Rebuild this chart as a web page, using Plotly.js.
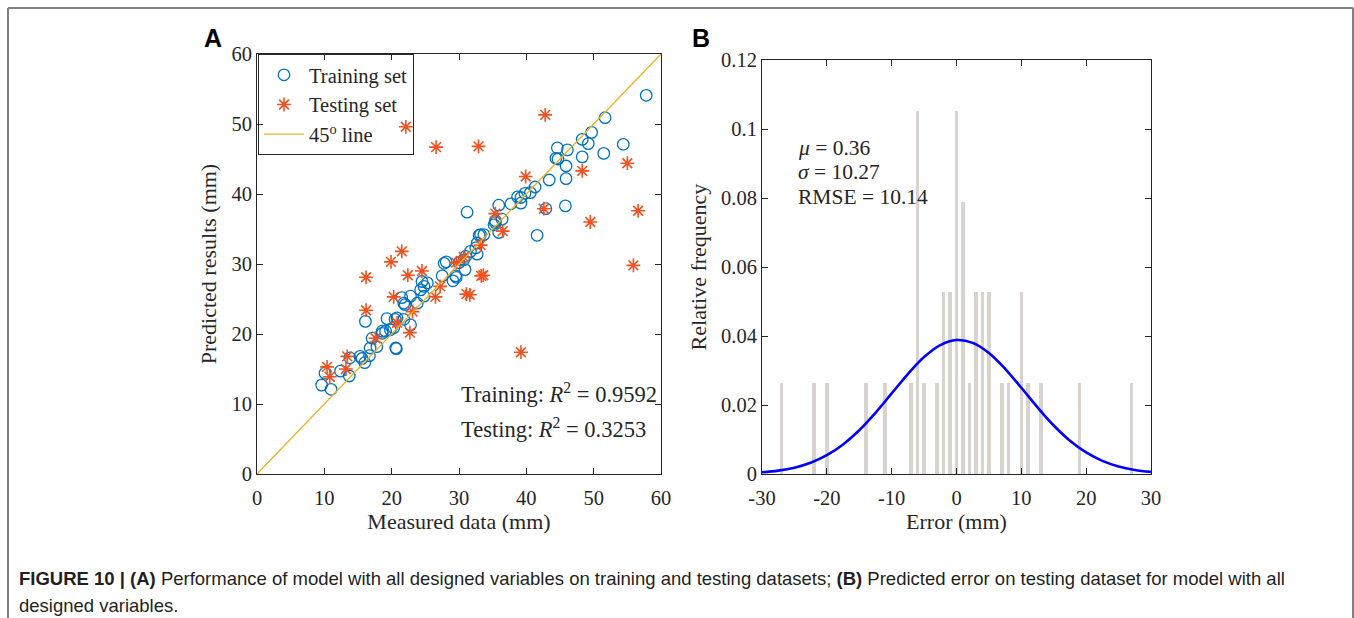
<!DOCTYPE html>
<html>
<head>
<meta charset="utf-8">
<script src="https://cdn.plot.ly/plotly-3.0.1.min.js"></script>
<style>
html,body{margin:0;padding:0;background:#fff;}
#chart{width:1354px;height:618px;}
</style>
</head>
<body>
<div id="chart"></div>
<script>
// ---------- Panel A data ----------
const trainMeasured = [9.6,11.0,10.1,12.4,13.7,13.8,15.3,15.6,16.0,16.7,16.8,17.1,17.8,18.6,19.1,19.8,20.3,20.7,16.1,19.3,20.5,20.8,21.8,22.8,18.6,21.5,22.0,22.8,23.8,21.8,24.3,24.8,24.5,25.3,24.8,27.5,28.1,29.1,29.5,30.0,30.7,30.9,31.0,31.7,32.7,32.5,32.7,33.2,33.7,33.0,35.4,35.9,35.2,35.4,36.4,35.9,37.7,38.7,39.2,39.2,39.8,40.6,41.3,41.6,42.9,43.4,45.8,45.9,45.9,44.4,44.7,44.6,46.1,48.3,48.3,49.2,49.7,51.5,51.7,54.4,57.8,31.2,20.6,29.6,27.8];
const trainPredicted = [12.7,12.1,14.4,14.7,14.0,16.6,16.8,16.5,15.9,16.9,18.0,19.4,18.2,20.1,20.4,20.6,20.9,17.9,21.8,22.2,22.1,22.3,22.1,21.3,20.4,25.2,24.2,25.4,24.4,24.4,26.3,26.8,27.5,27.3,25.4,28.3,30.3,27.6,28.3,30.2,30.6,29.2,31.1,31.8,31.4,32.3,33.0,34.2,34.2,34.1,36.2,34.5,35.6,35.9,36.4,38.4,38.6,39.6,39.5,38.7,40.1,40.2,41.0,34.1,37.9,42.0,38.3,42.2,44.0,45.1,45.0,46.6,46.3,45.3,47.8,47.2,48.8,45.8,50.9,47.1,54.1,37.4,18.0,28.1,30.1];
const testMeasured = [22.1,26.6,32.9,42.8,39.9,48.3,55.0,42.6,35.4,36.5,49.5,56.6,33.2,55.9,21.5,19.9,24.5,16.2,22.4,29.6,30.7,33.3,33.6,27.2,26.5,31.1,31.6,20.3,23.1,16.2,20.8,22.7,17.6,13.4,13.2,10.4,10.8,39.2];
const testPredicted = [49.6,46.7,46.8,51.3,42.5,43.3,44.4,37.9,37.2,34.7,36.0,37.6,32.7,29.8,31.8,30.3,29.0,28.1,28.4,30.2,31.0,28.3,28.4,26.8,25.3,25.7,25.6,25.3,23.2,23.4,21.6,20.2,19.4,16.8,15.0,15.3,13.9,17.4];
const lineEnds = [0, 60];
const axisATicks = [0,10,20,30,40,50,60];

// ---------- Panel B data ----------
const errorBins = [-27,-22,-20,-14,-11,-7,-6,-5,-3,-2,-1,0,1,2,3,4,5,7,8,10,11,13,19,27];
const binCounts = [1,1,1,1,1,1,4,1,1,2,2,4,3,1,2,2,2,1,1,2,1,1,1,1];
const curveX = [-30,-27.5,-25,-22.5,-20,-17.5,-15,-12.5,-10,-7.5,-5,-2.5,0,2.5,5,7.5,10,12.5,15,17.5,20,22.5,25,27.5,30];
const curveY = [0.00049,0.00098,0.00184,0.00326,0.00544,0.00857,0.01269,0.01774,0.02335,0.02898,0.03390,0.03737,0.03882,0.03801,0.03508,0.03050,0.02500,0.01931,0.01406,0.00965,0.00624,0.00380,0.00218,0.00118,0.00060];
const axisBXTicks = [-30,-20,-10,0,10,20,30];
const axisBXLabels = ["-30","-20","-10","0","10","20","30"];
const axisBYTicks = [0,0.02,0.04,0.06,0.08,0.1,0.12];

const total = binCounts.reduce((a,b)=>a+b,0);
const relFreq = binCounts.map(c=>c/total);

const W = 1354, H = 618;
const px = v => v / W;
const py = v => 1 - v / H;

const serif = "Liberation Serif, Times New Roman, serif";
const sans = "Liberation Sans, Arial, sans-serif";
const ink = '#262626';

const traces = [
  {
    type: 'scatter', mode: 'markers', name: 'Training set',
    x: trainMeasured, y: trainPredicted, xaxis: 'x', yaxis: 'y',
    marker: {symbol: 'circle-open', size: 11.5, color: '#0072BD', line: {width: 1.3, color: '#0072BD'}}
  },
  {
    type: 'scatter', mode: 'markers', name: 'Testing set',
    x: testMeasured, y: testPredicted, xaxis: 'x', yaxis: 'y',
    marker: {symbol: 'asterisk-open', size: 11.5, color: '#F2501E', line: {width: 1.6, color: '#F2501E'}}
  },
  {
    type: 'scatter', mode: 'lines', name: '45<sup>o</sup> line',
    x: lineEnds, y: lineEnds, xaxis: 'x', yaxis: 'y',
    line: {color: '#EDB120', width: 1.3}
  },
  {
    type: 'bar', x: errorBins, y: relFreq, xaxis: 'x2', yaxis: 'y2',
    width: 0.55, marker: {color: '#d8d3cc', line: {width: 0}}, showlegend: false
  },
  {
    type: 'scatter', mode: 'lines', x: curveX, y: curveY, xaxis: 'x2', yaxis: 'y2',
    line: {color: '#0000FF', width: 2.6, shape: 'spline'}, showlegend: false
  }
];

const axisCommon = {
  showline: true, linecolor: ink, linewidth: 1, mirror: 'allticks',
  ticks: 'inside', ticklen: 6, tickwidth: 1, tickcolor: ink,
  showgrid: false, zeroline: false,
  tickfont: {family: serif, size: 20.5, color: ink}
};
const titleFont = {family: serif, size: 22, color: ink};

const layout = {
  width: W, height: H,
  margin: {l: 0, r: 0, t: 0, b: 0},
  paper_bgcolor: '#ffffff', plot_bgcolor: '#ffffff',
  showlegend: true,
  hovermode: false,
  xaxis: Object.assign({}, axisCommon, {
    domain: [px(257), px(661)], range: [0, 60], tickvals: axisATicks, anchor: 'y',
    ticklabelstandoff: 5,
    title: {text: 'Measured data (mm)', font: titleFont, standoff: 6}
  }),
  yaxis: Object.assign({}, axisCommon, {
    domain: [1 - 474 / H, 1 - 54 / H], range: [0, 60], tickvals: axisATicks, anchor: 'x',
    title: {text: 'Predicted results (mm)', font: titleFont, standoff: 8}
  }),
  xaxis2: Object.assign({}, axisCommon, {
    domain: [px(762), px(1151)], range: [-30, 30], tickvals: axisBXTicks, ticktext: axisBXLabels, anchor: 'y2',
    ticklabelstandoff: 5,
    title: {text: 'Error (mm)', font: titleFont, standoff: 6}
  }),
  yaxis2: Object.assign({}, axisCommon, {
    domain: [1 - 474 / H, 1 - 60 / H], range: [0, 0.12], tickvals: axisBYTicks, anchor: 'x2',
    title: {text: 'Relative frequency', font: titleFont, standoff: 8}
  }),
  legend: {
    x: px(258), y: py(54), xanchor: 'left', yanchor: 'top',
    bgcolor: 'rgba(255,255,255,0)', bordercolor: ink, borderwidth: 1,
    font: {family: serif, size: 20.5, color: ink},
    itemwidth: 40, tracegroupgap: 0
  },
  bargap: 0,
  annotations: [
    {xref: 'paper', yref: 'paper', x: px(213), y: py(38), text: '<b>A</b>', showarrow: false,
     xanchor: 'center', yanchor: 'middle', font: {family: sans, size: 25, color: '#000'}},
    {xref: 'paper', yref: 'paper', x: px(701), y: py(38), text: '<b>B</b>', showarrow: false,
     xanchor: 'center', yanchor: 'middle', font: {family: sans, size: 25, color: '#000'}},
    {xref: 'paper', yref: 'paper', x: px(459), y: py(393), text: 'Training: <i>R</i><sup>2</sup> = 0.9592', showarrow: false,
     xanchor: 'left', yanchor: 'middle', font: {family: serif, size: 22.5, color: ink}},
    {xref: 'paper', yref: 'paper', x: px(459), y: py(428), text: 'Testing: <i>R</i><sup>2</sup> = 0.3253', showarrow: false,
     xanchor: 'left', yanchor: 'middle', font: {family: serif, size: 22.5, color: ink}},
    {xref: 'paper', yref: 'paper', x: px(796), y: py(148), text: '<i>μ</i> = 0.36', showarrow: false,
     xanchor: 'left', yanchor: 'middle', font: {family: serif, size: 21.5, color: ink}},
    {xref: 'paper', yref: 'paper', x: px(796), y: py(172), text: '<i>σ</i> = 10.27', showarrow: false,
     xanchor: 'left', yanchor: 'middle', font: {family: serif, size: 21.5, color: ink}},
    {xref: 'paper', yref: 'paper', x: px(796), y: py(197), text: 'RMSE = 10.14', showarrow: false,
     xanchor: 'left', yanchor: 'middle', font: {family: serif, size: 21.5, color: ink}},
    {xref: 'paper', yref: 'paper', x: px(17), y: py(578), showarrow: false, xanchor: 'left', yanchor: 'middle',
     text: '<b>FIGURE 10 | (A)</b> Performance of model with all designed variables on training and testing datasets; <b>(B)</b> Predicted error on testing dataset for model with all',
     font: {family: sans, size: 18.5, color: '#231f20'}},
    {xref: 'paper', yref: 'paper', x: px(17), y: py(605), showarrow: false, xanchor: 'left', yanchor: 'middle',
     text: 'designed variables.', font: {family: sans, size: 18.5, color: '#231f20'}}
  ],
  shapes: [
    {type: 'line', xref: 'paper', yref: 'paper', x0: px(8), x1: px(1353), y0: py(8), y1: py(8), line: {color: '#808080', width: 2}},
    {type: 'line', xref: 'paper', yref: 'paper', x0: px(8), x1: px(8), y0: py(8), y1: 0, line: {color: '#808080', width: 2}},
    {type: 'line', xref: 'paper', yref: 'paper', x0: px(1353), x1: px(1353), y0: py(8), y1: 0, line: {color: '#808080', width: 2}}
  ]
};

Plotly.newPlot('chart', traces, layout, {staticPlot: true, displayModeBar: false});
</script>
</body>
</html>
